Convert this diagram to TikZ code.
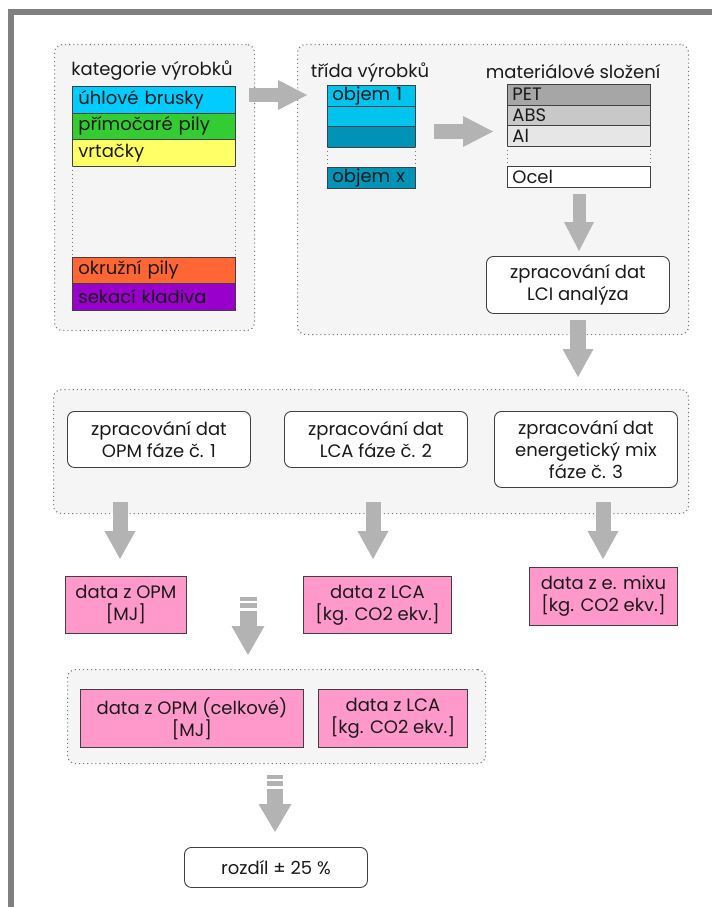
\documentclass[tikz,border=0pt]{standalone}
\usepackage{fontspec}
\setmainfont{Poppins}
\usetikzlibrary{arrows.meta}
\definecolor{framegray}{HTML}{808080}
\definecolor{panelfill}{HTML}{F5F5F5}
\definecolor{dotgray}{HTML}{7A7A7A}
\definecolor{arrowgray}{HTML}{B3B3B3}
\definecolor{boxborder}{HTML}{404040}
\definecolor{txt}{HTML}{1A1A1A}
\definecolor{ccyan}{HTML}{00CCFF}
\definecolor{cgreen}{HTML}{33CC33}
\definecolor{cyellow}{HTML}{FFFF66}
\definecolor{corange}{HTML}{FF6633}
\definecolor{cpurple}{HTML}{9900CC}
\definecolor{blueA}{HTML}{00C4EE}
\definecolor{blueB}{HTML}{0093B8}
\definecolor{matA}{HTML}{A6A6A6}
\definecolor{matB}{HTML}{C8C8C8}
\definecolor{matC}{HTML}{E6E6E6}
\definecolor{pinkc}{HTML}{FF99CC}
\begin{document}
\begin{tikzpicture}[x=1pt,y=-1pt,
  font=\fontsize{18}{22}\selectfont, text=txt,
  panel/.style={draw=dotgray, line width=1.1pt, dash pattern=on 1.1pt off 3pt,
    fill=panelfill, rounded corners=8pt, anchor=north west, inner sep=0pt},
  catbar/.style={draw=boxborder, line width=0.8pt, anchor=north west, inner ysep=0pt,
    inner xsep=6pt, text width=151pt, minimum height=26.5pt, align=left},
  bluebar/.style={draw=boxborder, line width=0.8pt, anchor=north west, inner ysep=0pt,
    inner xsep=5pt, text width=78pt, minimum height=20.5pt, align=left},
  matbar/.style={draw=boxborder, line width=0.8pt, anchor=north west, inner ysep=0pt,
    inner xsep=5pt, text width=133pt, minimum height=20.5pt, align=left},
  procbox/.style={draw=boxborder, fill=white, rounded corners=7pt, line width=0.9pt,
    anchor=north west, align=center, inner sep=0pt},
  pinkbox/.style={draw=boxborder, fill=pinkc, line width=0.9pt,
    anchor=north west, align=center, inner sep=0pt},
  gap/.style={draw=dotgray, line width=1pt, dash pattern=on 1pt off 3pt},
  barrow/.style={draw=arrowgray, line width=14pt,
    -{Triangle[length=29pt, width=30pt, line width=0pt]}},
  stripe/.style={fill=arrowgray},
  title/.style={inner sep=0pt, anchor=center}
]
\useasboundingbox (0,0) rectangle (712,907);
% frame
\fill[framegray] (8,9.5) rectangle (712,15);
\fill[framegray] (8,9.5) rectangle (14,907);

% panels
\node[panel, minimum width=200pt, minimum height=286pt] (p1) at (54,44) {};
\node[panel, minimum width=391pt, minimum height=290pt] (p2) at (297,44) {};
\node[panel, minimum width=635pt, minimum height=124pt] (p3) at (53,389) {};
\node[panel, minimum width=418pt, minimum height=94pt] (p4) at (67,669) {};

% panel 1: categories
\node[title] (t1) at (152,71) {kategorie výrobků};
\node[catbar, fill=ccyan] (c1) at (72,86) {úhlové brusky};
\node[catbar, fill=cgreen] (c2) at (72,112.5) {přímočaré pily};
\node[catbar, fill=cyellow] (c3) at (72,139) {vrtačky};
\node[catbar, fill=corange] (c4) at (72,256.5) {okružní pily};
\node[catbar, fill=cpurple] (c5) at (72,283) {sekací kladiva};
\draw[gap] (c3.south west) -- (c4.north west);
\draw[gap] (c3.south east) -- (c4.north east);

% panel 2: classes
\node[title] (t2) at (370,72) {třída výrobků};
\node[bluebar, fill=blueA] (b1) at (327,85) {objem 1};
\node[bluebar, fill=blueA] (b2) at (327,105.5) {};
\node[bluebar, fill=blueB] (b3) at (327,126) {};
\node[bluebar, fill=blueB] (bx) at (327,167) {objem x};
\draw[gap] (b3.south west) -- (bx.north west);
\draw[gap] (b3.south east) -- (bx.north east);

% panel 2: materials
\node[title] (t3) at (573,72) {materiálové složení};
\node[matbar, fill=matA] (m1) at (507,84) {PET};
\node[matbar, fill=matB] (m2) at (507,104.5) {ABS};
\node[matbar, fill=matC] (m3) at (507,125) {Al};
\node[matbar, fill=white] (m4) at (507,166) {Ocel};
\draw[gap] (m3.south west) -- (m4.north west);
\draw[gap] (m3.south east) -- (m4.north east);

\node[procbox, minimum width=183pt, minimum height=57pt] (lci) at (486,256)
  {zpracování dat\\LCI analýza};

% panel 3
\node[procbox, minimum width=183pt, minimum height=56pt] (opm) at (67,411)
  {zpracování dat\\OPM fáze č. 1};
\node[procbox, minimum width=183pt, minimum height=56pt] (lca) at (284,411)
  {zpracování dat\\LCA fáze č. 2};
\node[procbox, minimum width=183pt, minimum height=76pt] (mix) at (494,411)
  {zpracování dat\\energetický mix\\fáze č. 3};

% pink results
\node[pinkbox, minimum width=121pt, minimum height=57pt] (dopm) at (65,576)
  {data z OPM\\{}[MJ]};
\node[pinkbox, minimum width=148pt, minimum height=57pt] (dlca) at (303,576)
  {data z LCA\\{}[kg. CO2 ekv.]};
\node[pinkbox, minimum width=148pt, minimum height=58pt] (dmix) at (529,567)
  {data z e. mixu\\{}[kg. CO2 ekv.]};

% panel 4
\node[pinkbox, minimum width=223pt, minimum height=58pt] (topm) at (80,689)
  {data z OPM (celkové)\\{}[MJ]};
\node[pinkbox, minimum width=149pt, minimum height=58pt] (tlca) at (318,689)
  {data z LCA\\{}[kg. CO2 ekv.]};

\node[procbox, minimum width=183pt, minimum height=40pt] (diff) at (184,847)
  {rozdíl ± 25 \%};

% arrows
\coordinate (a1s) at (249,95);  \coordinate (a1e) at (307,95);
\coordinate (a2s) at (434,131.5); \coordinate (a2e) at (493,131.5);
\coordinate (a3s) at (579,194); \coordinate (a3e) at (579,251);
\coordinate (a4s) at (578,320); \coordinate (a4e) at (578,377);
\coordinate (a5s) at (120,502); \coordinate (a5e) at (120,559);
\coordinate (a6s) at (373,502); \coordinate (a6e) at (373,559);
\coordinate (a7s) at (603,502); \coordinate (a7e) at (603,559);
\coordinate (a8s) at (248,611); \coordinate (a8e) at (248,655);
\coordinate (a9s) at (275,789); \coordinate (a9e) at (275,832);

\draw[barrow] (a1s) -- (a1e);
\draw[barrow, line width=15pt, -{Triangle[length=30pt, width=31pt, line width=0pt]}] (a2s) -- (a2e);
\draw[barrow, line width=13pt] (a3s) -- (a3e);
\draw[barrow, line width=16pt, -{Triangle[length=28pt, width=31pt, line width=0pt]}] (a4s) -- (a4e);
\draw[barrow, line width=15pt, -{Triangle[length=28pt, width=31pt, line width=0pt]}] (a5s) -- (a5e);
\draw[barrow, line width=15pt, -{Triangle[length=28pt, width=31pt, line width=0pt]}] (a6s) -- (a6e);
\draw[barrow, line width=15pt, -{Triangle[length=28pt, width=31pt, line width=0pt]}] (a7s) -- (a7e);

% striped arrows
\fill[stripe] (239.5,597) rectangle (256.5,600.5);
\fill[stripe] (239.5,603) rectangle (256.5,608);
\draw[barrow, line width=17pt, -{Triangle[length=29pt, width=33pt, line width=0pt]}] (a8s) -- (a8e);
\fill[stripe] (267,775) rectangle (283,778.5);
\fill[stripe] (267,781) rectangle (283,786);
\draw[barrow, line width=16pt, -{Triangle[length=28pt, width=33pt, line width=0pt]}] (a9s) -- (a9e);
\end{tikzpicture}
\end{document}
